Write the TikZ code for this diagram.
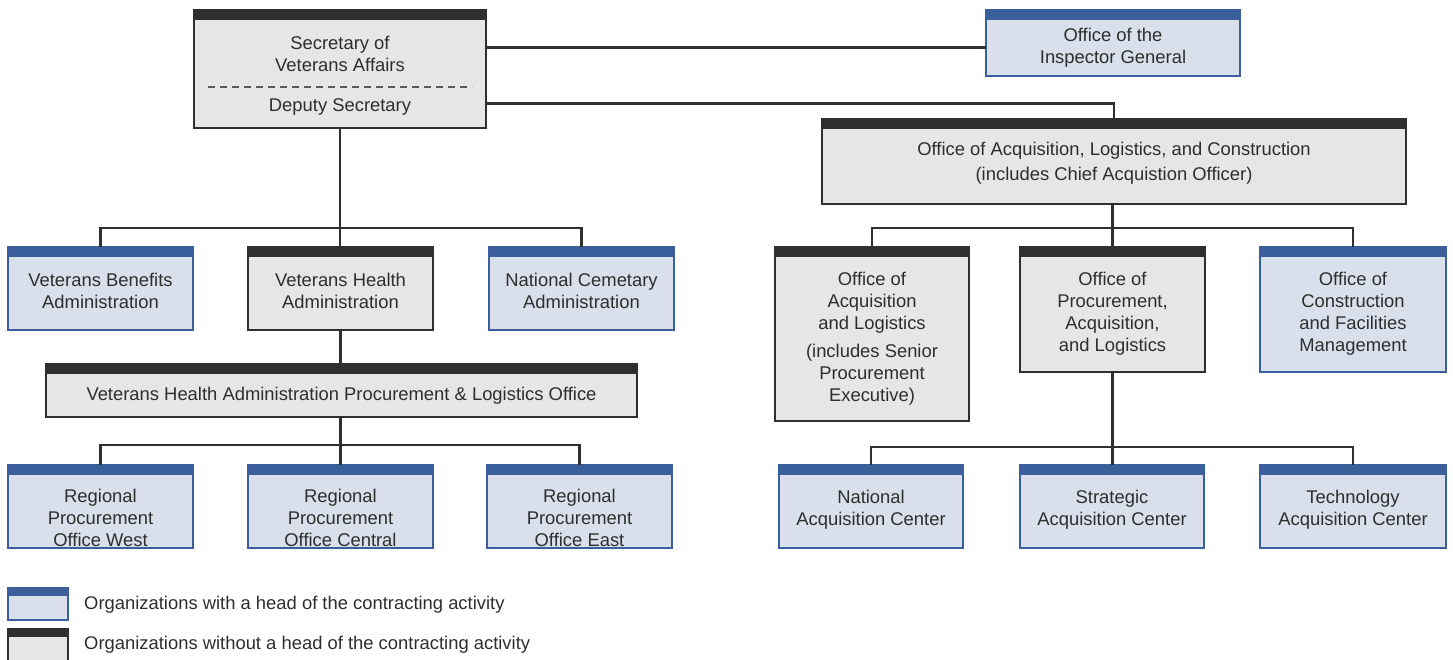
\documentclass[tikz,border=0pt]{standalone}
\usepackage{fontspec}
\setmainfont{Liberation Sans}
\definecolor{hblue}{HTML}{3A5F9B}
\definecolor{fblue}{HTML}{D9E0EB}
\definecolor{hdark}{HTML}{2F2F2F}
\definecolor{fgray}{HTML}{E6E6E6}
\definecolor{txt}{HTML}{2E2E2E}
\tikzset{
  orgbase/.style={rectangle, inner sep=0pt, outer sep=0pt, line width=2.5pt, anchor=north west},
  bluebox/.style={orgbase, draw=hblue, fill=fblue,
    path picture={\fill[hblue] (path picture bounding box.north west) rectangle ([yshift=-10pt]path picture bounding box.north east);}},
  darkbox/.style={orgbase, draw=hdark, fill=fgray,
    path picture={\fill[hdark] (path picture bounding box.north west) rectangle ([yshift=-10pt]path picture bounding box.north east);}},
  legblue/.style={orgbase, draw=hblue, fill=fblue,
    path picture={\fill[hblue] (path picture bounding box.north west) rectangle ([yshift=-8pt]path picture bounding box.north east);}},
  legdark/.style={orgbase, draw=hdark, fill=fgray,
    path picture={\fill[hdark] (path picture bounding box.north west) rectangle ([yshift=-8pt]path picture bounding box.north east);}},
  lbl/.style={font=\fontsize{18.4}{22}\selectfont, text=txt, align=center, inner sep=0pt},
  conn/.style={draw=hdark, line width=2.5pt},
  sepline/.style={draw=txt!80, line width=1.2pt, dash pattern=on 7pt off 5pt},
}
\newcommand\orgbox[8]{%
  \node[#6, minimum width={#4-#2}, minimum height={#5-#3}] (#1) at (#2,#3) {};
  \node[lbl] (#1-t) at ({(#2+#4)/2},{#8+1.5}) {#7};
}
\begin{document}
\begin{tikzpicture}[x=1pt,y=-1pt]
\useasboundingbox (0,0) rectangle (1453,659);
% top
\orgbox{sec}{194}{10}{486}{128}{darkbox}{Secretary of\\Veterans Affairs}{52}
\node[lbl] (dep) at (340,107) {Deputy Secretary};
\coordinate (dl) at (208,87);
\coordinate (dr) at (472,87);
\draw[sepline] (dl) -- (dr);
\orgbox{oig}{986}{10}{1240}{76}{bluebox}{Office of the\\Inspector General}{46}
\orgbox{oalc}{822}{119}{1406}{204}{darkbox}{Office of Acquisition, Logistics, and Construction\\[3pt](includes Chief Acquistion Officer)}{161.5}
% left branch
\orgbox{vba}{8}{247}{193}{330}{bluebox}{Veterans Benefits\\Administration}{289}
\orgbox{vha}{248}{247}{433}{330}{darkbox}{Veterans Health\\Administration}{289}
\orgbox{nca}{489}{247}{674}{330}{bluebox}{National Cemetary\\Administration}{289}
\orgbox{plo}{46}{364}{637}{417}{darkbox}{Veterans Health Administration Procurement \& Logistics Office}{394}
\orgbox{rpw}{8}{465}{193}{548}{bluebox}{Regional\\Procurement\\Office West}{516}
\orgbox{rpc}{248}{465}{433}{548}{bluebox}{Regional\\Procurement\\Office Central}{516}
\orgbox{rpe}{487}{465}{672}{548}{bluebox}{Regional\\Procurement\\Office East}{516}
% right branch
\orgbox{oal}{775}{247}{969}{421}{darkbox}{Office of\\Acquisition\\and Logistics\\[6pt](includes Senior\\Procurement\\Executive)}{337}
\orgbox{opal}{1020}{247}{1205}{372}{darkbox}{Office of\\Procurement,\\Acquisition,\\and Logistics}{312}
\orgbox{ocfm}{1260}{247}{1446}{372}{bluebox}{Office of\\Construction\\and Facilities\\Management}{312}
\orgbox{nac}{779}{465}{963}{548}{bluebox}{National\\Acquisition Center}{508}
\orgbox{sac}{1020}{465}{1204}{548}{bluebox}{Strategic\\Acquisition Center}{508}
\orgbox{tac}{1260}{465}{1446}{548}{bluebox}{Technology\\Acquisition Center}{508}
% legend
\node[legblue, minimum width=60, minimum height=32] (lg1) at (8,588) {};
\node[legdark, minimum width=60, minimum height=32] (lg2) at (8,629) {};
\node[lbl, anchor=west] (lg1-t) at (84,605) {Organizations with a head of the contracting activity};
\node[lbl, anchor=west] (lg2-t) at (84,645) {Organizations without a head of the contracting activity};
% connectors
\coordinate (b1) at (340,228);
\coordinate (b2) at (340,445);
\coordinate (b3) at (1112,228);
\coordinate (b4) at (1112,447);
\draw[conn] ([yshift=21.5pt]sec.east) -- ([yshift=21.5pt]sec.east -| oig.west);
\draw[conn] ([yshift=-34.5pt]sec.east) -| (oalc.north);
\draw[conn] (sec.south) -- (sec.south |- vha.north);
\draw[conn] (vba.north) |- (b1) -| (nca.north);
\draw[conn] (vha.south) -- (vha.south |- plo.north);
\draw[conn] (rpc.north |- plo.south) -- (rpc.north);
\draw[conn] (rpw.north) |- (b2) -| (rpe.north);
\draw[conn] (opal.north |- oalc.south) -- (opal.north);
\draw[conn] (oal.north) |- (b3) -| (ocfm.north);
\draw[conn] (opal.south) -- (opal.south |- sac.north);
\draw[conn] (nac.north) |- (b4) -| (tac.north);
\end{tikzpicture}
\end{document}
